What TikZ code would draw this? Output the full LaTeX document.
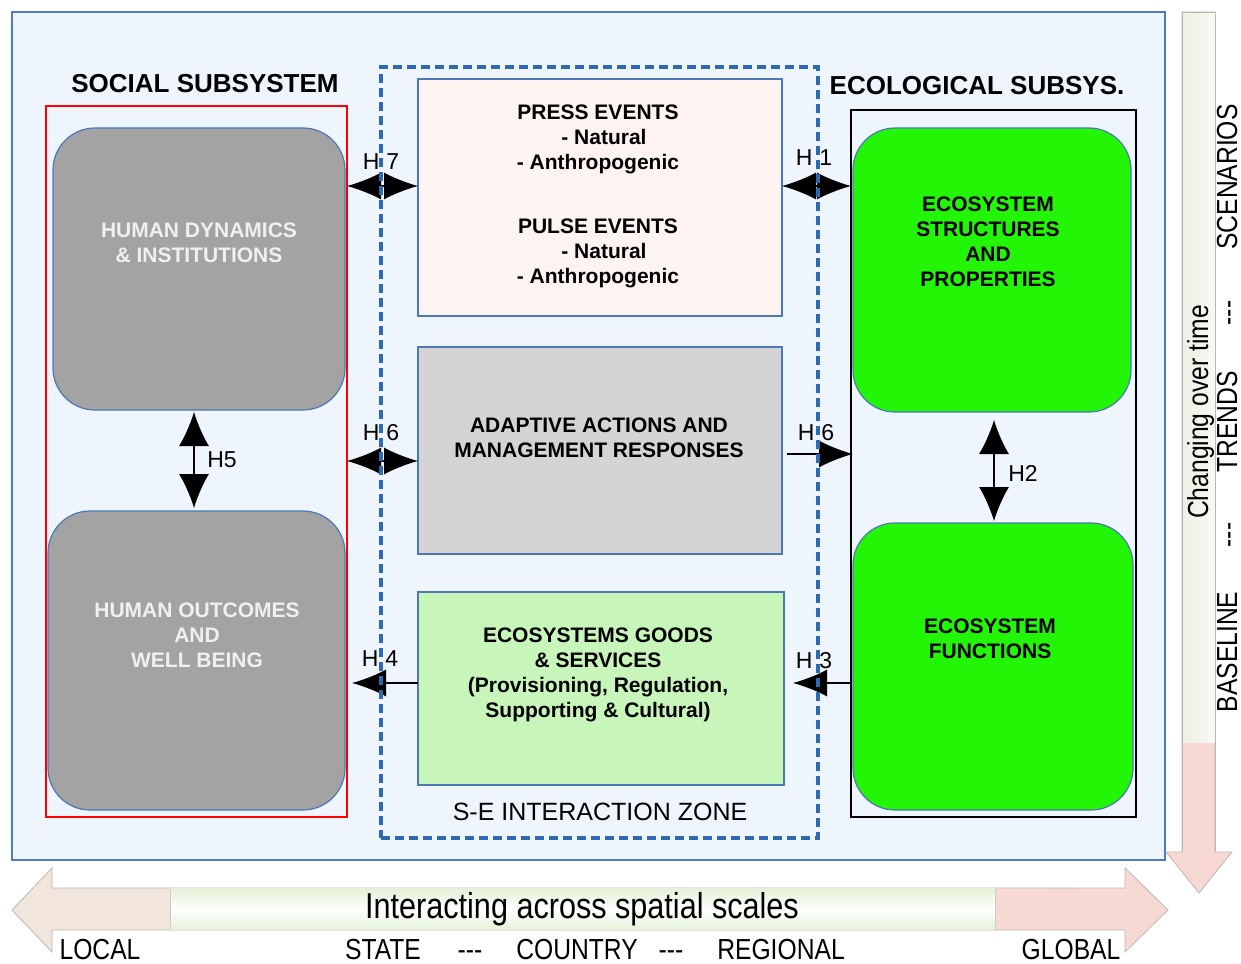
\documentclass[tikz,border=0pt]{standalone}
\usepackage{fontspec}
\setmainfont{Liberation Sans}
\newfontfamily\narrowfont[FakeStretch=0.85]{Liberation Sans}
\usetikzlibrary{arrows.meta,shapes.geometric}
\definecolor{outerfill}{HTML}{EEF5FD}
\definecolor{outerline}{HTML}{4A7EC0}
\definecolor{boxline}{HTML}{4A78B8}
\definecolor{grayfill}{HTML}{A3A3A3}
\definecolor{pressfill}{HTML}{FDF3F1}
\definecolor{adaptfill}{HTML}{D4D4D4}
\definecolor{goodsfill}{HTML}{C8F6BA}
\definecolor{ecogreen}{HTML}{22F506}
\definecolor{dashblue}{HTML}{2E6AB1}
\definecolor{lighttext}{HTML}{F0F0F0}
\definecolor{arrowline}{HTML}{B8B8B0}
\definecolor{shaftgreen}{HTML}{EDF0E3}
\definecolor{headpink}{HTML}{F8D8D3}
\definecolor{midgreen}{HTML}{E4F2D8}
\begin{document}
\begin{tikzpicture}[x=1pt,y=-1pt,
  every node/.style={outer sep=0pt,inner sep=0pt},
  title/.style={font=\fontsize{26}{30}\selectfont\bfseries},
  boxtxt/.style={font=\fontsize{21}{25}\selectfont\bfseries,align=center},
  graytxt/.style={boxtxt,text=lighttext},
  hlab/.style={font=\fontsize{23}{27}\selectfont},
  narrow/.style={font=\narrowfont\fontsize{29}{33}\selectfont,anchor=base},
  rnarrow/.style={font=\narrowfont\fontsize{29}{33}\selectfont,anchor=base,rotate=90},
  rbox/.style={draw=boxline,line width=1.2pt,rounded corners=42pt},
  sbox/.style={draw=boxline,line width=1.2pt},
  dbl/.style={line width=1.3pt,{Latex[length=34pt,width=27pt]}-{Latex[length=34pt,width=27pt]}},
  sgl/.style={line width=1.3pt,-{Latex[length=34pt,width=27pt]}},
  vdbl/.style={line width=1.3pt,{Latex[length=34pt,width=30pt]}-{Latex[length=34pt,width=30pt]}}
]
\useasboundingbox (0,0) rectangle (1241,963);
\fill[white] (0,0) rectangle (1241,963);

% outer frame
\node[draw=outerline,fill=outerfill,line width=2pt,minimum width=1153,minimum height=848] (outer) at (588.5,436) {};

% vertical time arrow
\path[fill=headpink,draw=arrowline,line width=0.8pt] (1182,12) -- (1215,12) -- (1215,852) -- (1232,852) -- (1199,893) -- (1166,852) -- (1182,852) -- cycle;
\shade[left color=shaftgreen,right color=shaftgreen!40!white] (1182.5,12.5) rectangle (1214.5,742);
\draw[arrowline,line width=0.8pt] (1182,12) -- (1215,12) -- (1215,852) (1182,12) -- (1182,852);
\node[rnarrow] (time) at (1208,412) {Changing over time};
\node[rnarrow] (base) at (1237,652) {BASELINE};
\node[rnarrow] (d1) at (1237,535) {---};
\node[rnarrow] (trend) at (1237,422) {TRENDS};
\node[rnarrow] (d2) at (1237,313) {---};
\node[rnarrow] (scen) at (1237,177) {SCENARIOS};

% horizontal scale arrow
\path[left color=shaftgreen!60!headpink,right color=headpink,draw=arrowline,line width=0.8pt]
  (12,910) -- (52,868) -- (52,888) -- (1125,888) -- (1125,868) -- (1168,910) -- (1125,952) -- (1125,930) -- (52,930) -- (52,952) -- cycle;
\shade[top color=midgreen,bottom color=midgreen,middle color=white] (170,888.6) rectangle (995,929.4);
\draw[arrowline!70,line width=0.6pt] (170,889) -- (170,929) (995,889) -- (995,929);
\node[font=\narrowfont\fontsize{36}{40}\selectfont] (scales) at (582,909) {Interacting across spatial scales};
\node[narrow] (local) at (100,959) {LOCAL};
\node[narrow] (state) at (383,959) {STATE};
\node[narrow] (d3) at (470,959) {---};
\node[narrow] (country) at (577,959) {COUNTRY};
\node[narrow] (d4) at (671,959) {---};
\node[narrow] (regional) at (781,959) {REGIONAL};
\node[narrow] (global) at (1071,959) {GLOBAL};

% social subsystem
\node[title] (soctitle) at (205,84) {SOCIAL SUBSYSTEM};
\node[draw=red,line width=2pt,minimum width=301,minimum height=711] (red) at (196.5,461.5) {};
\node[rbox,fill=grayfill,minimum width=292,minimum height=282] (hd) at (199,269) {};
\node[graytxt] (hdtxt) at (199,243) {HUMAN DYNAMICS\\\& INSTITUTIONS};
\node[rbox,fill=grayfill,minimum width=297,minimum height=299] (ho) at (196.5,660.5) {};
\node[graytxt] (hotxt) at (197,635) {HUMAN OUTCOMES\\AND\\WELL BEING};

% central boxes
\node[sbox,fill=pressfill,minimum width=364,minimum height=237] (press) at (600,197.5) {};
\node[boxtxt] (presstxt) at (598,196) {PRESS EVENTS\\\hspace*{12pt}- Natural\\- Anthropogenic\\[39pt]PULSE EVENTS\\\hspace*{12pt}- Natural\\- Anthropogenic};
\node[sbox,fill=adaptfill,minimum width=364,minimum height=207] (adapt) at (600,450.5) {};
\node[boxtxt] (adapttxt) at (599,438) {ADAPTIVE ACTIONS AND\\MANAGEMENT RESPONSES};
\node[sbox,fill=goodsfill,minimum width=366,minimum height=193] (goods) at (601,688.5) {};
\node[boxtxt] (goodstxt) at (598,675) {ECOSYSTEMS GOODS\\\& SERVICES\\(Provisioning, Regulation,\\Supporting \& Cultural)};
\node[font=\fontsize{25}{29}\selectfont] (zone) at (600,812) {S-E INTERACTION ZONE};

% ecological subsystem
\node[title] (ecotitle) at (977,86) {ECOLOGICAL SUBSYS.};
\node[draw=black,line width=2pt,minimum width=285,minimum height=707] (black) at (993.5,463.5) {};
\node[rbox,fill=ecogreen,minimum width=278,minimum height=284] (eco1) at (992,270) {};
\node[boxtxt] (eco1txt) at (988,242) {ECOSYSTEM\\STRUCTURES\\AND\\PROPERTIES};
\node[rbox,fill=ecogreen,minimum width=280,minimum height=287] (eco2) at (993,666.5) {};
\node[boxtxt] (eco2txt) at (990,639) {ECOSYSTEM\\FUNCTIONS};

% connectors
\draw[dbl] (red.east |- 0,186) -- (press.west |- 0,186);
\draw[dbl] (press.east |- 0,186) -- (black.west |- 0,186);
\draw[dbl] (red.east |- 0,461) -- (adapt.west |- 0,461);
\draw[sgl,shorten <=5pt,shorten >=-2pt] (adapt.east |- 0,454) -- (black.west |- 0,454);
\draw[sgl,shorten >=5pt] (goods.west |- 0,683) -- (red.east |- 0,683);
\draw[sgl,shorten >=9pt] (black.west |- 0,683) -- (goods.east |- 0,683);
\draw[vdbl,shorten <=2pt,shorten >=3pt] (hd.south -| 194,0) -- (ho.north -| 194,0);
\draw[vdbl,shorten <=8pt,shorten >=2pt] (eco1.south -| 994,0) -- (eco2.north -| 994,0);

% labels
\node[hlab] (l7) at (381,162) {H\hspace{7pt}7};
\node[hlab] (l1) at (814,158) {H\hspace{7pt}1};
\node[hlab] (l6a) at (381,433) {H\hspace{7pt}6};
\node[hlab] (l6b) at (816,433) {H\hspace{7pt}6};
\node[hlab] (l4) at (380,659) {H\hspace{7pt}4};
\node[hlab] (l3) at (814,661) {H\hspace{7pt}3};
\node[hlab] (l5) at (222,460) {H5};
\node[hlab] (l2) at (1023,473) {H2};

% dashed interaction zone
\node[draw=dashblue,line width=3.5pt,dash pattern=on 9pt off 5pt,minimum width=437,minimum height=771] (zonebox) at (599.5,452.5) {};
\end{tikzpicture}
\end{document}
